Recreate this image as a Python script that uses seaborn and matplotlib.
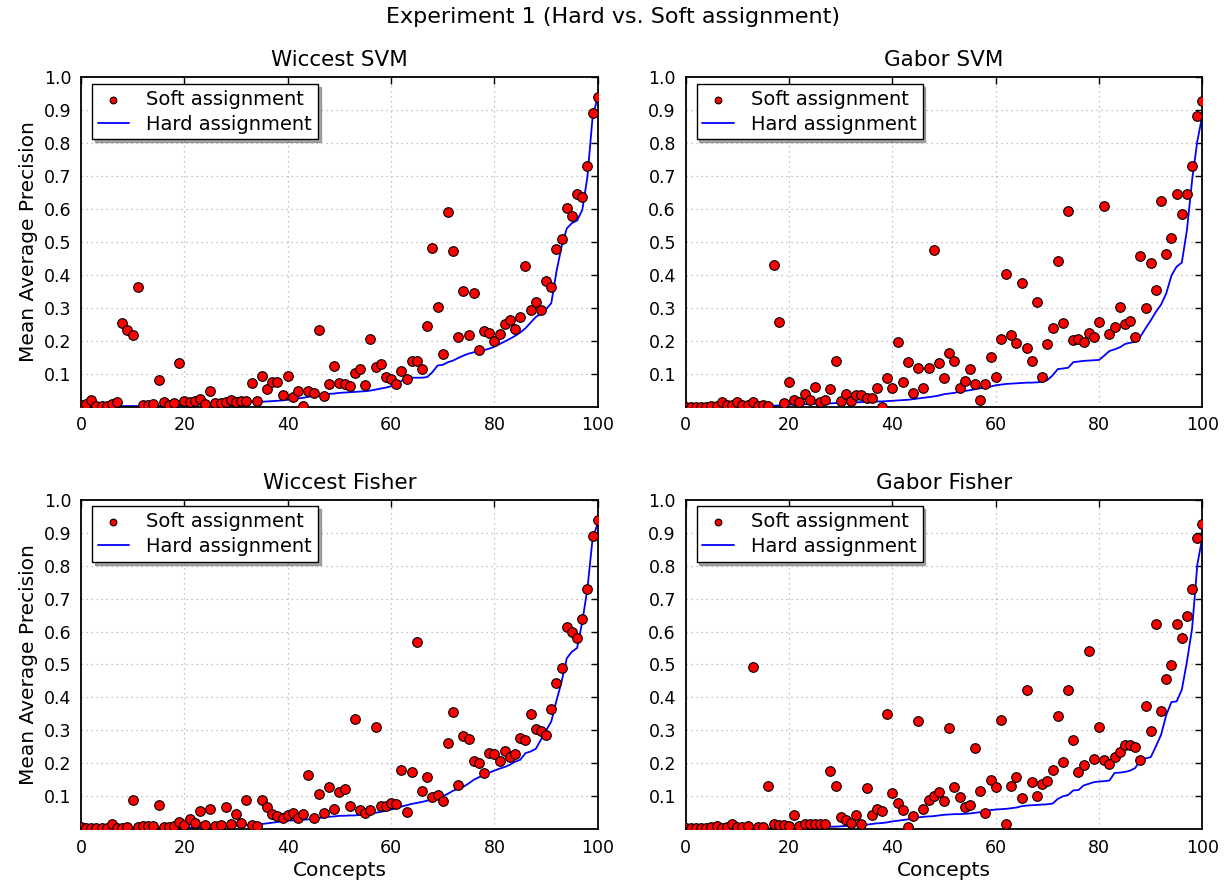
import numpy as np
import pandas as pd
import seaborn as sns
import matplotlib.pyplot as plt

# valores (MAP por conceito, 101 conceitos)
concepts = list(range(101))

wiccest_svm_soft = [
    0.005, 0.007, 0.020, 0.002, 0.001, 0.001, 0.007, 0.015, 0.253, 0.233, 0.217,
    0.362, 0.004, 0.004, 0.007, 0.081, 0.015, 0.005, 0.010, 0.133, 0.018,
    0.013, 0.017, 0.023, 0.007, 0.048, 0.012, 0.012, 0.013, 0.020, 0.015,
    0.017, 0.017, 0.071, 0.017, 0.094, 0.054, 0.074, 0.076, 0.035, 0.093,
    0.030, 0.049, 0.001, 0.049, 0.043, 0.233, 0.032, 0.069, 0.124, 0.073,
    0.068, 0.064, 0.101, 0.113, 0.067, 0.205, 0.119, 0.129, 0.091, 0.083,
    0.069, 0.107, 0.083, 0.138, 0.140, 0.113, 0.245, 0.482, 0.304, 0.160,
    0.592, 0.471, 0.213, 0.350, 0.217, 0.345, 0.172, 0.230, 0.224, 0.200,
    0.220, 0.250, 0.263, 0.235, 0.271, 0.426, 0.294, 0.317, 0.294, 0.381,
    0.363, 0.479, 0.510, 0.602, 0.578, 0.644, 0.637, 0.729, 0.891, 0.939]
wiccest_svm_hard = [
    0.000, 0.000, 0.001, 0.001, 0.001, 0.001, 0.001, 0.002, 0.002, 0.002, 0.002,
    0.002, 0.003, 0.003, 0.003, 0.003, 0.004, 0.004, 0.004, 0.005, 0.005,
    0.006, 0.006, 0.007, 0.007, 0.008, 0.008, 0.009, 0.009, 0.010, 0.010,
    0.011, 0.012, 0.013, 0.014, 0.015, 0.016, 0.017, 0.018, 0.019, 0.021,
    0.023, 0.025, 0.027, 0.030, 0.033, 0.035, 0.037, 0.039, 0.040, 0.042,
    0.043, 0.044, 0.045, 0.046, 0.047, 0.049, 0.052, 0.055, 0.058, 0.062,
    0.070, 0.078, 0.086, 0.088, 0.088, 0.088, 0.090, 0.105, 0.125, 0.127,
    0.135, 0.140, 0.148, 0.155, 0.161, 0.165, 0.168, 0.172, 0.176, 0.182,
    0.190, 0.198, 0.206, 0.215, 0.225, 0.238, 0.255, 0.272, 0.282, 0.296,
    0.314, 0.410, 0.486, 0.541, 0.557, 0.565, 0.597, 0.698, 0.880, 0.940]

gabor_svm_soft = [
    0.000, 0.000, 0.000, 0.000, 0.000, 0.001, 0.001, 0.014, 0.004, 0.004, 0.013,
    0.004, 0.004, 0.015, 0.002, 0.006, 0.002, 0.431, 0.258, 0.012, 0.076,
    0.020, 0.015, 0.040, 0.020, 0.061, 0.013, 0.020, 0.054, 0.138, 0.018,
    0.040, 0.018, 0.035, 0.035, 0.025, 0.026, 0.058, 0.000, 0.086, 0.056,
    0.197, 0.076, 0.135, 0.043, 0.117, 0.056, 0.117, 0.474, 0.134, 0.087,
    0.164, 0.140, 0.058, 0.079, 0.114, 0.068, 0.020, 0.069, 0.152, 0.090,
    0.204, 0.403, 0.218, 0.192, 0.375, 0.179, 0.140, 0.319, 0.090, 0.190,
    0.238, 0.443, 0.253, 0.594, 0.202, 0.204, 0.196, 0.223, 0.210, 0.256,
    0.609, 0.220, 0.241, 0.304, 0.251, 0.261, 0.213, 0.457, 0.298, 0.437,
    0.354, 0.623, 0.462, 0.513, 0.644, 0.584, 0.646, 0.729, 0.883, 0.926]
gabor_svm_hard = [
    0.000, 0.000, 0.000, 0.001, 0.001, 0.001, 0.001, 0.001, 0.002, 0.002, 0.002,
    0.002, 0.002, 0.003, 0.003, 0.003, 0.003, 0.003, 0.004, 0.005, 0.006,
    0.007, 0.007, 0.008, 0.008, 0.009, 0.009, 0.010, 0.010, 0.011, 0.012,
    0.012, 0.013, 0.013, 0.014, 0.014, 0.015, 0.016, 0.016, 0.017, 0.018,
    0.019, 0.020, 0.021, 0.023, 0.025, 0.027, 0.029, 0.031, 0.034, 0.038,
    0.040, 0.042, 0.046, 0.048, 0.050, 0.053, 0.056, 0.058, 0.061, 0.065,
    0.067, 0.069, 0.070, 0.071, 0.072, 0.073, 0.073, 0.074, 0.076, 0.081,
    0.095, 0.114, 0.116, 0.118, 0.135, 0.137, 0.139, 0.140, 0.141, 0.142,
    0.155, 0.169, 0.174, 0.180, 0.190, 0.194, 0.197, 0.213, 0.238, 0.262,
    0.288, 0.310, 0.344, 0.398, 0.425, 0.437, 0.536, 0.688, 0.805, 0.886]

wiccest_fisher_soft = [
    0.006, 0.004, 0.004, 0.004, 0.004, 0.004, 0.016, 0.004, 0.004, 0.007, 0.088,
    0.007, 0.009, 0.011, 0.009, 0.075, 0.007, 0.007, 0.011, 0.022, 0.014,
    0.032, 0.019, 0.055, 0.014, 0.062, 0.011, 0.014, 0.067, 0.016, 0.047,
    0.019, 0.090, 0.014, 0.011, 0.090, 0.069, 0.047, 0.040, 0.033, 0.042,
    0.050, 0.035, 0.045, 0.166, 0.035, 0.108, 0.048, 0.127, 0.063, 0.113,
    0.122, 0.070, 0.336, 0.059, 0.050, 0.059, 0.310, 0.071, 0.070, 0.079,
    0.077, 0.179, 0.053, 0.173, 0.568, 0.116, 0.159, 0.099, 0.105, 0.087,
    0.261, 0.357, 0.135, 0.283, 0.274, 0.208, 0.200, 0.171, 0.230, 0.227,
    0.206, 0.238, 0.218, 0.228, 0.276, 0.270, 0.350, 0.304, 0.297, 0.287,
    0.364, 0.445, 0.490, 0.614, 0.600, 0.580, 0.637, 0.729, 0.890, 0.938]
wiccest_fisher_hard = [
    0.000, 0.000, 0.000, 0.001, 0.001, 0.001, 0.001, 0.001, 0.002, 0.002, 0.002,
    0.002, 0.002, 0.003, 0.003, 0.003, 0.003, 0.004, 0.004, 0.004, 0.005,
    0.005, 0.006, 0.006, 0.007, 0.007, 0.008, 0.008, 0.009, 0.010, 0.011,
    0.012, 0.013, 0.014, 0.015, 0.016, 0.018, 0.020, 0.022, 0.024, 0.026,
    0.027, 0.028, 0.029, 0.030, 0.032, 0.034, 0.036, 0.038, 0.039, 0.041,
    0.041, 0.042, 0.042, 0.044, 0.046, 0.048, 0.050, 0.053, 0.056, 0.060,
    0.064, 0.069, 0.073, 0.077, 0.080, 0.083, 0.087, 0.091, 0.095, 0.100,
    0.108, 0.117, 0.123, 0.129, 0.139, 0.150, 0.158, 0.165, 0.172, 0.178,
    0.184, 0.189, 0.196, 0.205, 0.211, 0.231, 0.236, 0.244, 0.272, 0.300,
    0.327, 0.390, 0.448, 0.519, 0.539, 0.550, 0.630, 0.731, 0.883, 0.928]

gabor_fisher_soft = [
    0.004, 0.004, 0.004, 0.004, 0.004, 0.006, 0.009, 0.004, 0.006, 0.017, 0.007,
    0.007, 0.011, 0.493, 0.007, 0.007, 0.132, 0.016, 0.014, 0.014, 0.011,
    0.042, 0.011, 0.016, 0.016, 0.016, 0.016, 0.016, 0.176, 0.132, 0.036,
    0.028, 0.019, 0.044, 0.017, 0.126, 0.042, 0.062, 0.057, 0.350, 0.110,
    0.080, 0.059, 0.006, 0.039, 0.329, 0.062, 0.088, 0.100, 0.113, 0.085,
    0.307, 0.128, 0.098, 0.067, 0.075, 0.246, 0.115, 0.049, 0.150, 0.127,
    0.333, 0.016, 0.132, 0.159, 0.095, 0.424, 0.142, 0.100, 0.137, 0.147,
    0.181, 0.344, 0.203, 0.422, 0.272, 0.174, 0.196, 0.541, 0.213, 0.311,
    0.210, 0.199, 0.218, 0.236, 0.257, 0.257, 0.251, 0.211, 0.374, 0.299,
    0.622, 0.358, 0.456, 0.498, 0.624, 0.580, 0.648, 0.728, 0.883, 0.925]
gabor_fisher_hard = [
    0.000, 0.000, 0.000, 0.000, 0.001, 0.001, 0.001, 0.001, 0.001, 0.001, 0.002,
    0.002, 0.002, 0.002, 0.002, 0.002, 0.003, 0.003, 0.003, 0.003, 0.004,
    0.004, 0.005, 0.005, 0.006, 0.006, 0.007, 0.007, 0.008, 0.008, 0.009,
    0.010, 0.011, 0.012, 0.013, 0.014, 0.016, 0.018, 0.019, 0.021, 0.024,
    0.026, 0.028, 0.030, 0.033, 0.036, 0.038, 0.039, 0.040, 0.042, 0.044,
    0.045, 0.046, 0.046, 0.047, 0.048, 0.050, 0.052, 0.055, 0.058, 0.060,
    0.061, 0.062, 0.064, 0.066, 0.070, 0.072, 0.073, 0.074, 0.075, 0.076,
    0.078, 0.092, 0.100, 0.104, 0.118, 0.119, 0.133, 0.138, 0.143, 0.145,
    0.146, 0.148, 0.171, 0.172, 0.174, 0.178, 0.186, 0.211, 0.215, 0.219,
    0.252, 0.287, 0.347, 0.386, 0.388, 0.423, 0.509, 0.610, 0.802, 0.888]

panel_titles = ["Wiccest SVM", "Gabor SVM", "Wiccest Fisher", "Gabor Fisher"]
soft_series = [wiccest_svm_soft, gabor_svm_soft, wiccest_fisher_soft, gabor_fisher_soft]
hard_series = [wiccest_svm_hard, gabor_svm_hard, wiccest_fisher_hard, gabor_fisher_hard]

# estilo "classico" do matplotlib antigo
sns.set_style("white", {
    "xtick.direction": "in",
    "ytick.direction": "in",
    "xtick.top": True,
    "ytick.right": True,
    "axes.edgecolor": "black",
    "text.color": "black",
    "axes.labelcolor": "black",
    "xtick.color": "black",
    "ytick.color": "black",
})
plt.rcParams['font.family'] = ['DejaVu Sans']
plt.rcParams['xtick.major.size'] = 5
plt.rcParams['ytick.major.size'] = 5
plt.rcParams['xtick.major.width'] = 1
plt.rcParams['ytick.major.width'] = 1

fig, axes = plt.subplots(2, 2, figsize=(12.27, 8.86), dpi=100)
fig.subplots_adjust(left=0.066, right=0.980, top=0.913, bottom=0.064,
                    wspace=0.170, hspace=0.282)

for i, ax in enumerate(axes.flat):
    df = pd.DataFrame({"concept": concepts, "soft": soft_series[i], "hard": hard_series[i]})
    sns.scatterplot(data=df, x="concept", y="soft", ax=ax, color="red",
                    edgecolor="black", linewidth=0.8, s=48, zorder=3,
                    label="Soft assignment")
    sns.lineplot(data=df, x="concept", y="hard", ax=ax, color="blue",
                 linewidth=1.3, label="Hard assignment", zorder=2)
    ax.set_xlim(0, 100)
    ax.set_ylim(0, 1.0)
    ax.set_xticks([0, 20, 40, 60, 80, 100])
    ax.set_yticks(np.round(np.arange(0.1, 1.01, 0.1), 1))
    ax.tick_params(labelsize=12.5, pad=7)
    ax.grid(True, linestyle=(0, (1, 3)), color="#b0b0b0", linewidth=0.9)
    for sp in ax.spines.values():
        sp.set_linewidth(1.3)
    ax.set_title(panel_titles[i], fontsize=15.5, pad=8)
    ax.set_xlabel("Concepts" if i >= 2 else "", fontsize=14.5, labelpad=3)
    ax.set_ylabel("Mean Average Precision" if i % 2 == 0 else "", fontsize=14.5)
    leg = ax.legend(loc="upper left", bbox_to_anchor=(0.008, 1.0), fontsize=14,
                    shadow={"color": "0.35"}, fancybox=False, framealpha=1,
                    edgecolor="black", borderaxespad=0.35, handlelength=1.6,
                    borderpad=0.3, labelspacing=0.3, handletextpad=0.9,
                    markerscale=0.7)
    leg.get_frame().set_linewidth(1.0)

fig.suptitle("Experiment 1 (Hard vs. Soft assignment)", fontsize=16, y=0.992)
plt.savefig("out.png", dpi=100)
plt.close()
